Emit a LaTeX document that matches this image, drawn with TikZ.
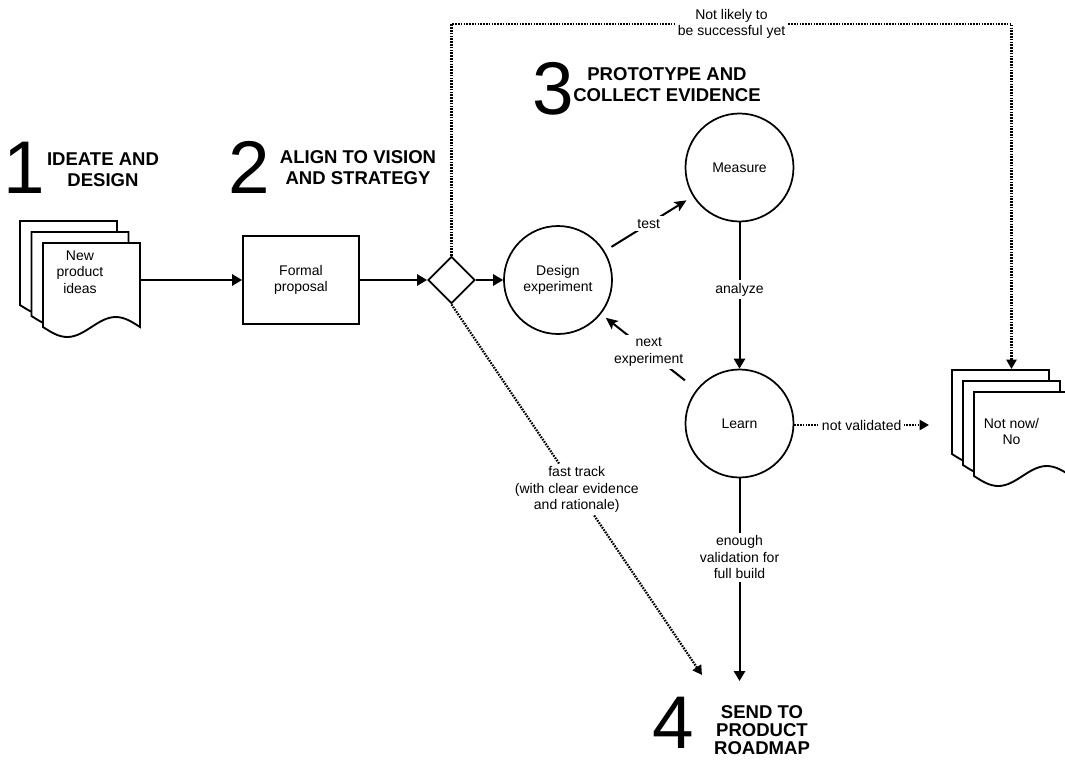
\documentclass[tikz,border=0pt]{standalone}
\usepackage{fontspec}
\setmainfont{Liberation Sans}
\usetikzlibrary{arrows.meta,shapes.geometric}
\newcommand\lblfont{\fontsize{10.5}{12.4}\selectfont}
\newcommand\hdrfont{\fontsize{13.9}{15.6}\selectfont\bfseries}
\newcommand\digitfont{\fontsize{56}{56}\selectfont}
\newcommand\docpage[2]{%
  \draw[page] (#1,#2) -- ++(0,84) sin ++(24.25,10) cos ++(24.25,-10)
    sin ++(24.25,-10) cos ++(24.25,10) -- ++(0,-84) -- cycle;}
\tikzset{
  page/.style={draw, fill=white, line width=1.4pt, line join=miter},
  box/.style={draw, fill=white, line width=1.4pt, minimum width=87pt,
    minimum height=66pt, align=center, font=\lblfont},
  circ/.style={draw, circle, fill=white, line width=1.3pt, minimum size=81pt,
    inner sep=0pt, align=center, font=\lblfont},
  dia/.style={draw, diamond, fill=white, line width=1.4pt, minimum width=35.25pt,
    minimum height=35.25pt, inner sep=0pt},
  conn/.style={line width=1.5pt, -{Triangle[length=7.5pt,width=8.5pt]}},
  thinconn/.style={line width=1.5pt, -{Stealth[length=9pt,width=8pt,inset=2pt]}},
  dotconn/.style={line width=1.7pt, dash pattern=on 1.2pt off 0.9pt,
    -{Triangle[length=7pt,width=7.5pt]}},
  lbl/.style={fill=white, font=\lblfont, align=center, inner sep=2pt},
  txt/.style={font=\lblfont, align=center, inner sep=0pt},
  hdr/.style={font=\hdrfont, align=center, inner sep=0pt},
  digit/.style={font=\digitfont, anchor=base, inner sep=0pt, text depth=0pt},
}
\begin{document}
\begin{tikzpicture}[x=0.75pt,y=-0.75pt]
\useasboundingbox (0,0) rectangle (1065,761);
\clip (0,0) rectangle (1065,761);

% headers
\node[digit] (d1) at (24,193) {1};
\node[hdr] (h1) at (103,169.5) {IDEATE AND\\DESIGN};
\node[digit] (d2) at (249,193) {2};
\node[hdr] (h2) at (358,167.5) {ALIGN TO VISION\\AND STRATEGY};
\node[digit] (d3) at (553,114) {3};
\node[hdr] (h3) at (667,85) {PROTOTYPE AND\\COLLECT EVIDENCE};
\node[digit] (d4) at (673,748) {4};
\node[hdr, font=\fontsize{13.9}{13.5}\selectfont\bfseries] (h4) at (762,730) {SEND TO\\PRODUCT\\ROADMAP};

% document stack 1
\docpage{20}{221}
\docpage{31.5}{232}
\docpage{43}{243}
\node[txt] (ideas) at (80,272) {New\\product\\ideas};
\coordinate (ideasout) at (140,280);

% document stack 2
\docpage{952}{370}
\docpage{963}{381}
\docpage{974}{392}
\node[txt] (notnow) at (1011.5,431.5) {Not now/\\No};

% main nodes
\node[box] (formal) at (301,280) {Formal\\proposal};
\node[dia] (gate) at (451.5,280) {};
\node[circ] (design) at (558,280) {Design\\experiment};
\node[circ] (measure) at (739.5,167.5) {Measure};
\node[circ] (learn) at (739.5,423.5) {Learn};

% coordinates for free ends
\coordinate (topleft) at (451.5,24);
\coordinate (topright) at (1011.5,24);
\coordinate (nntop) at (1011.5,369);
\coordinate (nvend) at (929,425);
\coordinate (ftend) at (702,675);
\coordinate (roadmap) at (739.5,681);

% connectors
\draw[conn] (ideasout) -- (formal.west);
\draw[conn] (formal.east) -- (gate.west);
\draw[conn] (gate.east) -- (design.west);
\draw[thinconn, shorten <=6pt, shorten >=5.6pt] (design) -- node[lbl] {test} (measure);
\draw[conn] (measure.south) -- node[lbl, pos=0.46] {analyze} (learn.north);
\draw[thinconn, shorten <=11pt, shorten >=4.5pt] (learn) -- node[lbl] {next\\experiment} (design);
\draw[dotconn] (learn.east |- nvend) -- node[lbl] {not validated} (nvend);
\draw[conn] (learn.south) -- node[lbl, pos=0.39] {enough\\validation for\\full build} (roadmap);
\draw[dotconn] (gate.south) -- node[lbl] {fast track\\(with clear evidence\\and rationale)} (ftend);
\draw[dotconn] (gate.north) -- (topleft) -- node[lbl] {Not likely to\\be successful yet} (topright) -- (nntop);
\end{tikzpicture}
\end{document}
